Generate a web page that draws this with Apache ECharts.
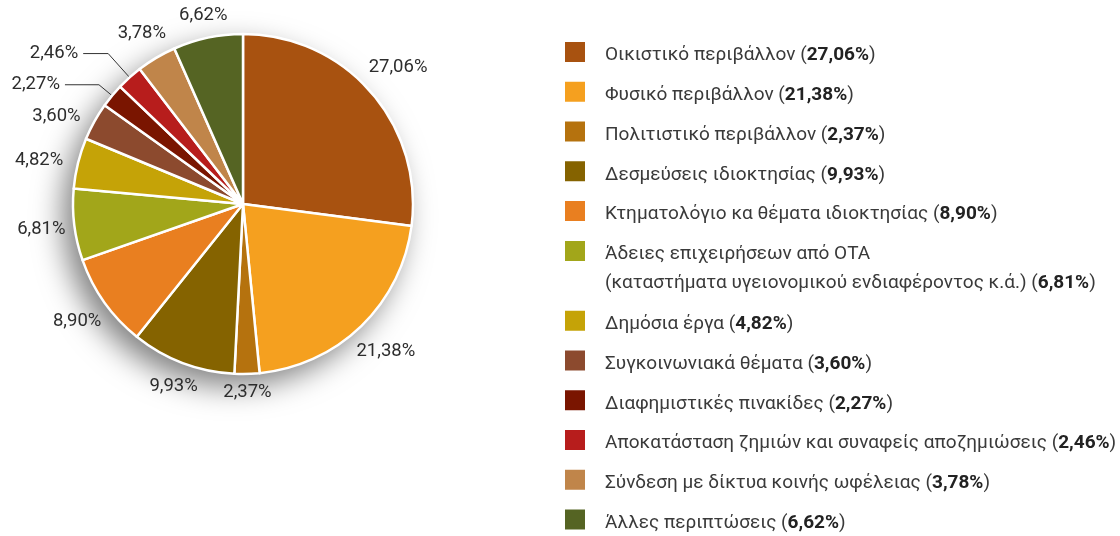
<!DOCTYPE html>
<html>
<head>
<meta charset="utf-8">
<script src="https://cdn.jsdelivr.net/npm/echarts@6/dist/echarts.min.js"></script>
<style>
  html, body { margin: 0; padding: 0; background: #fff; }
  #chart { width: 1120px; height: 536px; }
</style>
</head>
<body>
<div id="chart"></div>
<script>
var categories = [
  'Οικιστικό περιβάλλον',
  'Φυσικό περιβάλλον',
  'Πολιτιστικό περιβάλλον',
  'Δεσμεύσεις ιδιοκτησίας',
  'Κτηματολόγιο κα θέματα ιδιοκτησίας',
  'Άδειες επιχειρήσεων από ΟΤΑ\n(καταστήματα υγειονομικού ενδιαφέροντος κ.ά.)',
  'Δημόσια έργα',
  'Συγκοινωνιακά θέματα',
  'Διαφημιστικές πινακίδες',
  'Αποκατάσταση ζημιών και συναφείς αποζημιώσεις',
  'Σύνδεση με δίκτυα κοινής ωφέλειας',
  'Άλλες περιπτώσεις'
];
var values = [27.06, 21.38, 2.37, 9.93, 8.90, 6.81, 4.82, 3.60, 2.27, 2.46, 3.78, 6.62];
var colors = ['#a85210', '#f5a01f', '#b5720e', '#856300', '#e97f20', '#a2a61a',
              '#c5a307', '#8c4a2e', '#7a1500', '#b71d1c', '#c0854a', '#556423'];

var FONT = 'Roboto';
var FS = 18.5;   // pie labels
var LFS = 19;    // legend
var CX = 243, CY = 204, R = 170;
// slices whose labels keep a leader line
var withLine = { 8: true, 9: true };
// labels left where the pie layout puts them (the crowded upper-left ones)
var keepDefault = { 6: true, 7: true, 8: true, 9: true };

function pct(v) {
  return v.toFixed(2).replace('.', ',') + '%';
}

var valueByName = {};
categories.forEach(function (c, i) { valueByName[c] = values[i]; });

function legendText(name) {
  var lines = name.split('\n');
  if (lines.length > 1) {
    // empty first line keeps the first text line level with the icon
    return '{e| }\n{n|' + lines[0] + '}\n{m|' + lines[1] + ' (}{bm|' +
      pct(valueByName[name]) + '}{m|)}';
  }
  return '{n|' + name + ' (}{b|' + pct(valueByName[name]) + '}{n|)}';
}

function rs(extra) {
  var s = { fontFamily: FONT, fontSize: LFS, color: '#3a3a3a', lineHeight: 28 };
  for (var k in extra) s[k] = extra[k];
  return s;
}

var legendTextStyle = {
  fontFamily: FONT,
  fontSize: LFS,
  color: '#3a3a3a',
  lineHeight: 28,
  padding: [7, 0, 0, 14],
  rich: {
    n: rs({}),
    b: rs({ color: '#222', fontWeight: 'bold' }),
    e: rs({ lineHeight: 30 }),
    m: rs({ lineHeight: 30 }),
    bm: rs({ color: '#222', fontWeight: 'bold', lineHeight: 30 })
  }
};

function legendPart(top, names) {
  return {
    orient: 'vertical',
    left: 563,
    top: top,
    padding: 0,
    itemWidth: 22,
    itemHeight: 22,
    itemGap: 4.75,
    icon: 'rect',
    selectedMode: false,
    data: names,
    formatter: legendText,
    textStyle: legendTextStyle
  };
}

var chart = echarts.init(document.getElementById('chart'));

var data = categories.map(function (c, i) {
  var item = { name: c, value: values[i], itemStyle: { color: colors[i] } };
  if (withLine[i]) {
    item.labelLine = {
      length: i === 8 ? 17 : 32,
      length2: i === 8 ? 34 : 25,
      lineStyle: { color: '#333', width: 1, opacity: 1 }
    };
  }
  return item;
});

chart.setOption({
  backgroundColor: '#fff',
  animation: false,
  legend: [
    legendPart(34.5, categories.slice(0, 5)),
    legendPart(203.5, categories.slice(5))
  ],
  series: [{
    // soft shadow behind the pie
    type: 'pie',
    silent: true,
    z: 1,
    center: [CX, CY],
    radius: R,
    label: { show: false },
    labelLine: { show: false },
    itemStyle: {
      color: '#fff',
      shadowBlur: 30,
      shadowColor: 'rgba(0,0,0,0.5)',
      shadowOffsetX: -10,
      shadowOffsetY: 12
    },
    data: [{ value: 1, name: '' }]
  }, {
    type: 'pie',
    z: 2,
    center: [CX, CY],
    radius: R,
    startAngle: 90,
    clockwise: true,
    avoidLabelOverlap: false,
    itemStyle: { borderColor: '#fff', borderWidth: 2.5 },
    label: {
      show: true,
      position: 'outside',
      fontFamily: FONT,
      fontSize: FS,
      color: '#2d2d2d',
      distanceToLabelLine: 5,
      formatter: function (p) { return pct(p.value); }
    },
    labelLine: {
      show: true,
      length: 10,
      length2: 0,
      lineStyle: { opacity: 0 }
    },
    labelLayout: function (p) {
      if (keepDefault[p.dataIndex] || !p.labelLinePoints) return;
      var pt = p.labelLinePoints[0];
      var dx = pt[0] - CX, dy = pt[1] - CY;
      var len = Math.sqrt(dx * dx + dy * dy);
      dx /= len; dy /= len;
      var w = p.labelRect.width, h = p.labelRect.height;
      var d = R + 8 + Math.abs(dx) * w / 2 + Math.abs(dy) * h / 2;
      return {
        x: CX + dx * d,
        y: CY + dy * d,
        align: 'center',
        verticalAlign: 'middle'
      };
    },
    data: data
  }]
});
</script>
</body>
</html>
